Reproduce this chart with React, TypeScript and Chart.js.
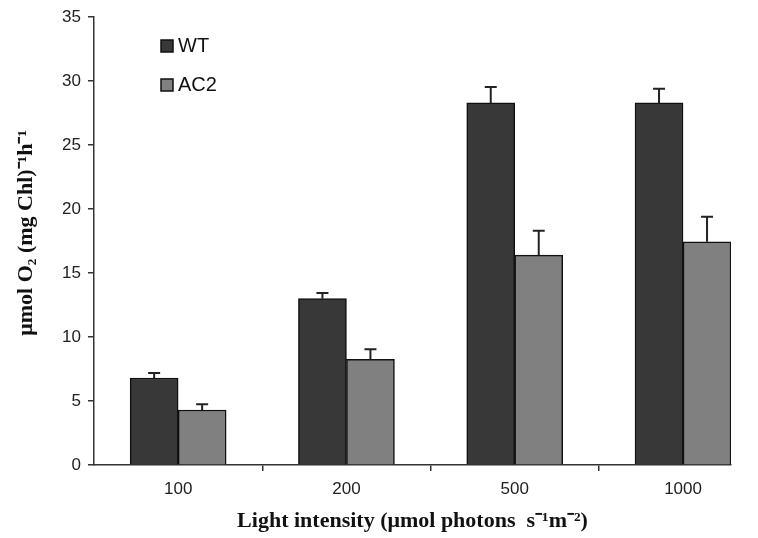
import React, { useEffect, useRef } from "react";
import { Chart, registerables } from "chart.js";

Chart.register(...registerables);

const categories = ["100", "200", "500", "1000"];
const wtValues = [6.8, 13.0, 28.3, 28.3];
const wtErrors = [0.4, 0.45, 1.25, 1.1];
const ac2Values = [4.3, 8.25, 16.4, 17.45];
const ac2Errors = [0.45, 0.8, 1.9, 1.95];
const yTicks = [0, 5, 10, 15, 20, 25, 30, 35];

const errorBarPlugin = {
  id: "errorBars",
  afterDatasetsDraw(chart: any) {
    const ctx = chart.ctx;
    const yScale = chart.scales.y;
    chart.data.datasets.forEach((ds: any, di: number) => {
      const meta = chart.getDatasetMeta(di);
      meta.data.forEach((bar: any, i: number) => {
        const err = ds.errors[i];
        const v = ds.data[i].y;
        const yTop = yScale.getPixelForValue(v + err);
        ctx.save();
        ctx.strokeStyle = "#222";
        ctx.lineWidth = 2;
        ctx.beginPath();
        ctx.moveTo(bar.x, bar.y);
        ctx.lineTo(bar.x, yTop);
        ctx.moveTo(bar.x - 6, yTop);
        ctx.lineTo(bar.x + 6, yTop);
        ctx.stroke();
        ctx.restore();
      });
    });
  },
};

const legendPlugin = {
  id: "customLegend",
  afterDraw(chart: any) {
    const ctx = chart.ctx;
    const x0 = 161;
    const ys = [46, 85];
    chart.data.datasets.forEach((ds: any, i: number) => {
      const y = ys[i];
      ctx.save();
      ctx.fillStyle = ds.backgroundColor;
      ctx.strokeStyle = "#111";
      ctx.lineWidth = 1.5;
      ctx.fillRect(x0, y - 6, 12, 12);
      ctx.strokeRect(x0, y - 6, 12, 12);
      ctx.fillStyle = "#111";
      ctx.font = "20px 'Liberation Sans', Arial, sans-serif";
      ctx.textBaseline = "middle";
      ctx.textAlign = "left";
      ctx.fillText(ds.label, x0 + 17, y);
      ctx.restore();
    });
  },
};

export default function App() {
  const canvasRef = useRef<HTMLCanvasElement | null>(null);

  useEffect(() => {
    const canvas = canvasRef.current;
    if (!canvas) return;
    const chart = new Chart(canvas, {
      type: "bar",
      data: {
        datasets: [
          {
            label: "WT",
            data: wtValues.map((v, i) => ({ x: i, y: v })),
            errors: wtErrors,
            backgroundColor: "#383838",
            borderColor: "#111",
            borderWidth: 1.5,
            barThickness: 48,
          } as any,
          {
            label: "AC2",
            data: ac2Values.map((v, i) => ({ x: i, y: v })),
            errors: ac2Errors,
            backgroundColor: "#808080",
            borderColor: "#111",
            borderWidth: 1.5,
            barThickness: 48,
          } as any,
        ],
      },
      options: {
        animation: false,
        responsive: false,
        maintainAspectRatio: false,
        layout: { padding: { top: 17, right: 27, left: 0, bottom: 0 } },
        plugins: {
          legend: { display: false },
          tooltip: { enabled: false },
        },
        scales: {
          x: {
            type: "linear",
            offset: false,
            min: -0.5,
            max: 3.285,
            afterBuildTicks: (scale: any) => {
              const t = [];
              for (let i = 0; i < categories.length; i++) {
                t.push({ value: i });
                if (i < categories.length - 1) t.push({ value: i + 0.5 });
              }
              scale.ticks = t;
            },
            afterFit: (scale: any) => {
              scale.height = 73;
            },
            ticks: {
              autoSkip: false,
              maxRotation: 0,
              padding: 8,
              color: "#222",
              font: { family: "'Liberation Sans', Arial, sans-serif", size: 17 },
              callback: (value: any) =>
                Number.isInteger(value) ? categories[value] : "",
            },
            grid: {
              offset: false,
              drawOnChartArea: false,
              drawTicks: true,
              tickLength: 6,
              lineWidth: 1.5,
              color: (ctx: any) =>
                ctx.tick && Number.isInteger(ctx.tick.value) ? "rgba(0,0,0,0)" : "#333",
            },
            border: { display: true, color: "#333", width: 1.5 },
            title: {
              display: true,
              text: "Light intensity (\u03bcmol photons  s\u207b\u00b9m\u207b\u00b2)",
              color: "#111",
              font: { family: "'Liberation Serif', 'Times New Roman', serif", size: 22, weight: "bold" },
              padding: { top: 0, bottom: 3 },
            },
          } as any,
          y: {
            min: 0,
            max: 35,
            afterBuildTicks: (scale: any) => {
              scale.ticks = yTicks.map((v) => ({ value: v }));
            },
            afterFit: (scale: any) => {
              scale.width = 94;
            },
            ticks: {
              padding: 7,
              color: "#222",
              font: { family: "'Liberation Sans', Arial, sans-serif", size: 17 },
            },
            grid: {
              drawOnChartArea: false,
              drawTicks: true,
              tickLength: 6,
              lineWidth: 1.5,
              color: "#333",
            },
            border: { display: true, color: "#333", width: 1.5 },
            title: {
              display: true,
              text: "   \u03bcmol O\u2082 (mg Chl)\u207b\u00b9h\u207b\u00b9",
              color: "#111",
              font: { family: "'Liberation Serif', 'Times New Roman', serif", size: 22, weight: "bold" },
              padding: { top: 13, bottom: 0 },
            },
          },
        },
      },
      plugins: [errorBarPlugin, legendPlugin],
    });
    return () => chart.destroy();
  }, []);

  return (
    <div style={{ position: "fixed", left: 0, top: 0, width: 758, height: 538, background: "#fff" }}>
      <canvas ref={canvasRef} width={758} height={538} style={{ width: 758, height: 538, display: "block" }} />
    </div>
  );
}
